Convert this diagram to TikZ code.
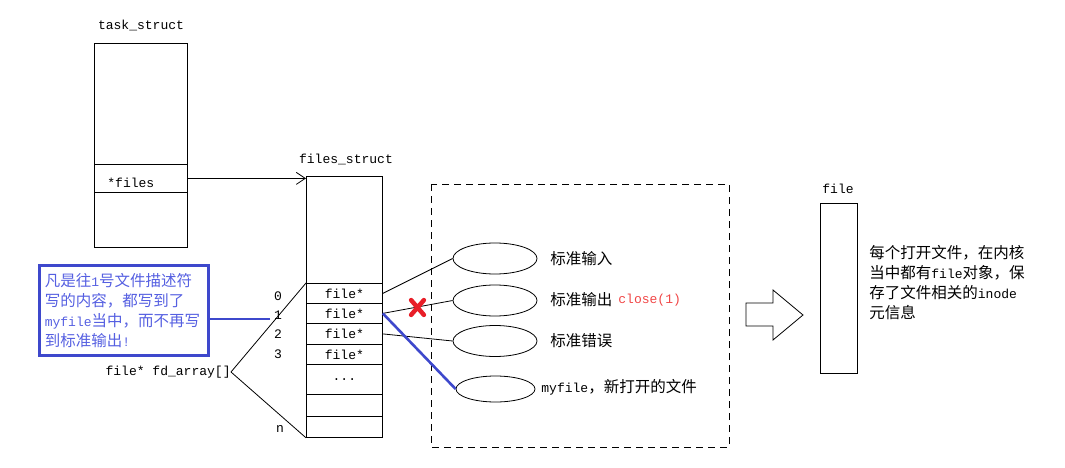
\documentclass[tikz,border=0pt]{standalone}
\usepackage{fontspec}
\setmainfont{Noto Sans CJK SC}
\setmonofont{Liberation Mono}[Scale=0.84]
\usetikzlibrary{shapes.geometric,arrows.meta}
\definecolor{noteblue}{RGB}{62,72,204}
\definecolor{notetext}{RGB}{85,95,225}
\definecolor{closered}{RGB}{240,70,70}
\definecolor{xred}{RGB}{232,30,40}
\newcommand\fddots{...}

\begin{document}
\begin{tikzpicture}[x=1pt,y=-1pt,line width=0.8pt,
  font=\fontsize{15.5}{20}\selectfont,
  box/.style={draw, inner sep=0pt, anchor=north west},
  mono/.style={font=\fontsize{15.5}{20}\selectfont\ttfamily, inner sep=0pt},
  fdcell/.style={box, minimum width=76pt, mono},
  disk/.style={draw, ellipse, minimum width=84pt, minimum height=31pt, inner sep=0pt},
  tag/.style={anchor=west, inner sep=0pt},
  bluelink/.style={draw=noteblue, line width=2.6pt},
  note/.style={draw=noteblue, line width=2.6pt, text=notetext, anchor=north west,
    text width=158pt, inner xsep=5.5pt, minimum height=90pt, align=left},
  dashbox/.style={dash pattern=on 7pt off 5pt},
  cross/.style={draw=xred, line width=4.5pt, line cap=round}]
\useasboundingbox (0,0) rectangle (1065,468);
% task_struct
\node[box, minimum width=93pt, minimum height=204pt] (task) at (94,43) {};
\node[mono, anchor=base] (tasktitle) at (141,30) {task\_struct};
\node[box, minimum width=93pt, minimum height=28pt] (files) at (94,164) {};
\node[mono, anchor=base west] (fileslabel) at (107,187) {*files};
% files_struct
\node[box, minimum width=76pt, minimum height=261pt] (fs) at (306,176) {};
\node[mono, anchor=base] (fstitle) at (346,163) {files\_struct};
\foreach \i/\top/\h/\txt in {0/283/20/file*, 1/303/20/file*, 2/323/21/file*, 3/344/20/file*, 4/364/30/\fddots, 5/394/22/, 6/416/21/}
  { \node[fdcell, minimum height=\h] (fd\i) at (306,\top) {\txt}; }
\draw[-{Straight Barb[length=9pt,width=12pt]}] (files.east) -- (files.east -| fs.west);
% fd_array
\foreach \i/\y in {0/296,1/315,2/334,3/354} { \node[mono] (idx\i) at (278,\y) {\i}; }
\node[mono] (idxn) at (280,429) {n};
\node[mono, anchor=east] (fdarr) at (231,372) {file* fd\_array[]};
\draw (fdarr.east) -- (fd0.north west);
\draw (fdarr.east) -- (fd6.south west);
% note on fd 1
\node[note] (note) at (38,264) {凡是往\texttt{1}号文件描述符\\写的内容，都写到了\\\texttt{myfile}当中，而不再写\\到标准输出\texttt{!}};
\coordinate (one) at (270,319);
\draw[bluelink] (one) -- (one -| note.east);
% open files
\draw[dashbox] (431,184) rectangle (729,447);
\node[disk] (stdin) at (495,258.5) {};
\node[disk] (stdout) at (495,300.5) {};
\node[disk] (stderr) at (495,341) {};
\node[disk, minimum width=79pt, minimum height=26pt] (myfile) at (495.5,389) {};
\node[tag] (stdinlabel) at (550,259) {标准输入};
\node[tag] (stdoutlabel) at (550,300) {标准输出};
\node[tag, mono, text=closered] (closelabel) at (618,300) {close(1)};
\node[tag] (stderrlabel) at (550,341) {标准错误};
\node[tag] (myfilelabel) at (541,387) {\texttt{myfile}，新打开的文件};
\draw (fd0.east) -- (stdin.west);
\draw (fd1.east) -- (stdout.west);
\draw (fd2.east) -- (stderr.west);
\draw[bluelink] (fd1.east) -- (myfile.west);
\node[minimum width=12pt, minimum height=14pt, inner sep=0pt] (cut) at (417.5,307.5) {};
\draw[cross] (cut.north west) -- (cut.south east) (cut.north east) -- (cut.south west);
% file
\draw (746,303) -- (773,303) -- (773,290) -- (803,315) -- (773,340) -- (773,326) -- (746,326) -- cycle;
\node[box, minimum width=37pt, minimum height=170pt] (file) at (820,203) {};
\node[mono, anchor=base] (filetitle) at (838,193) {file};
\node[anchor=north west, align=left, inner sep=0pt] (fileinfo) at (869,245) {每个打开文件，在内核\\当中都有\texttt{file}对象，保\\存了文件相关的\texttt{inode}\\元信息};
\end{tikzpicture}
\end{document}
